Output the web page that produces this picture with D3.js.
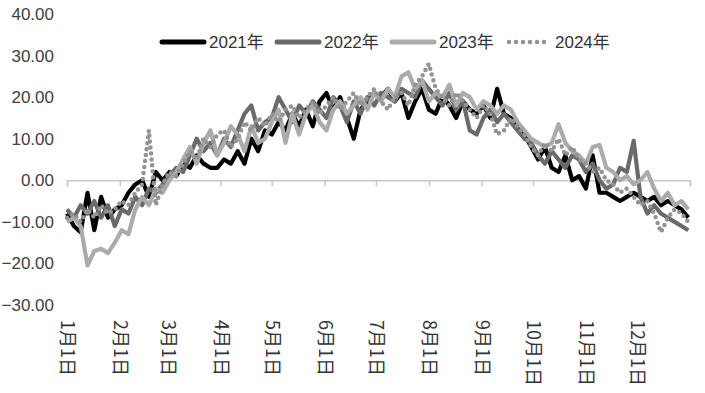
<!DOCTYPE html>
<html><head><meta charset="utf-8">
<script src="https://cdn.jsdelivr.net/npm/d3@7"></script>
<style>
html,body{margin:0;padding:0;background:#fff;}
svg{display:block;font-family:"Liberation Sans","Noto Sans CJK SC",sans-serif;}
</style></head>
<body><svg id="c" width="705" height="393"></svg>
<script>
const days = d3.range(0, 365, 4);
const s2021 = [-8,-11,-12.5,-3,-12,-4,-9,-7,-6,-3,-1,0,-4,2,0,2,1,4,3,6,4,3,3,5,4,7,4,10,7,12,11,14,12,16,13,17,13,19,21,17,20,15,10,17,19,21,20,22,19,21,15,19,22,17,16,20,18,15,19,17,16,18,15,22,16,15,13,11,8,5,8,3,2,6,0,1,-2,6,-3,-3,-4,-5,-4,-3,-4,-5,-4,-6,-5,-6,-7,-9];
const s2022 = [-7,-9,-6,-8,-5,-9,-6,-11,-7,-8,-4,-6,-2,-3,-1,1,3,2,6,10,7,9,6,10,8,12,16,18,12,14,15,20,17,14,18,16,19,17,15,20,18,14,19,16,20,18,21,20,19,22,21,20,24,22,20,18,21,17,19,12,11,15,17,14,16,14,12,10,9,6,4,7,5,3,6,5,2,4,0,-2,-1,3,2,9.5,-4,-8,-6,-8,-9,-10,-11,-12];
const s2023 = [-10,-9,-11,-20.5,-17,-16.5,-17.5,-15,-12,-13,-7,-4,-6,-2,-3,0,2,5,8,4,9,12,6,9,13,11,7,13,9,10,14,17,9,16,11,16,18,14,12,17,19,16,18,20,17,21,19,22,20,25,26,22,24,19,21,20,23,18,21,20,17,19,18,16,18,17,14,12,10,9,8,9,13.5,9,7,6,4,8,8.5,3,2,0,1,-1,0,2,-2,-5,-3,-6,-5,-7];
const s2024 = [-9,-8,-10,-7,-9,-6,-8,-7,-5,-6,-3,-1,12,-6,-1,2,1,4,7,5,10,8,11,12,8,10,14,12,15,13,16,14,17,18,15,17,19,16,18,20,17,19,21,18,20,22,19,17,20,21,18,23,25,28,22,20,18,21,19,17,15,18,16,11,12,15,13,11,8,6,9,7,10,6,8,5,4,2,3,0,-1,-3,-2,-4,-6,-5,-8,-12.5,-9,-7,-8,-10];
const seriesNames = ["2021年","2022年","2023年","2024年"];
const seriesColors = ["#000000","#6a6a6a","#ababab","#939393"];
const yTicks = [-30,-20,-10,0,10,20,30,40];
const monthDays = [0,31,59,90,120,151,181,212,243,273,304,334,365];
const monthLabels = ["1月1日","2月1日","3月1日","4月1日","5月1日","6月1日","7月1日","8月1日","9月1日","10月1日","11月1日","12月1日"];

const svg = d3.select("#c");
const x = d3.scaleLinear().domain([0,365]).range([67,690]);
const y = d3.scaleLinear().domain([-30,40]).range([305,14]);

// y labels
svg.append("g").selectAll("text").data(yTicks).join("text")
  .attr("x",54).attr("y",d=>y(d)).attr("dy","0.35em")
  .attr("text-anchor","end").attr("font-size",17).attr("fill","#404040")
  .text(d=>d3.format(".2f")(d));

// x axis at zero
const xAxis = d3.axisBottom(x).tickValues(monthDays).tickSize(6).tickFormat("");
const ax = svg.append("g").attr("transform",`translate(0,${y(0)})`).call(xAxis);
ax.select(".domain").attr("stroke","#c8c8c8").attr("stroke-width",1.5);
ax.selectAll(".tick line").attr("stroke","#c8c8c8").attr("stroke-width",1.5);

// month labels
svg.append("g").selectAll("text").data(monthLabels).join("text")
  .attr("transform",(d,i)=>`translate(${x(monthDays[i])-6},320) rotate(90)`)
  .attr("font-size",18).attr("fill","#333")
  .attr("font-family","'Noto Sans CJK SC',sans-serif")
  .text(d=>d);

const line = d3.line().x((d,i)=>x(days[i])).y(d=>y(d));
const all = [s2021,s2022,s2023,s2024];
all.forEach((s,i)=>{
  const p = svg.append("path").datum(s).attr("d",line)
    .attr("fill","none").attr("stroke",seriesColors[i])
    .attr("stroke-linejoin","round");
  if(i===3){ p.attr("stroke-width",4.5).attr("stroke-dasharray","0 6").attr("stroke-linecap","round"); }
  else { p.attr("stroke-width",4.2); }
});

// legend
const legX = [162,277,392,507];
const lg = svg.append("g");
seriesNames.forEach((n,i)=>{
  const l = lg.append("line").attr("x1",legX[i]).attr("x2",legX[i]+42)
    .attr("y1",42).attr("y2",42).attr("stroke",seriesColors[i]);
  if(i===3){ l.attr("stroke-width",4.5).attr("stroke-dasharray","0 7").attr("stroke-linecap","round").attr("x1",legX[i]+2); }
  else { l.attr("stroke-width",5).attr("stroke-linecap","round"); }
  lg.append("text").attr("x",legX[i]+(i===3?48:47)).attr("y",42).attr("dy","0.35em")
    .attr("font-size",17).attr("fill","#333").text(n);
});
</script></body></html>
